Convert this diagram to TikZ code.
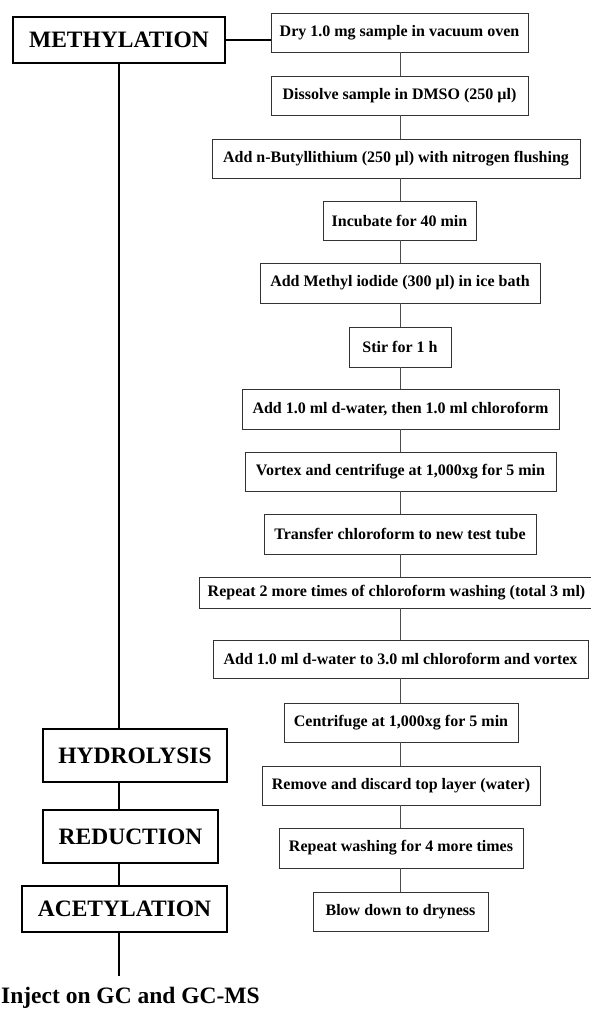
\documentclass[tikz,border=0pt]{standalone}
\usepackage{fontspec}
\setmainfont{Liberation Serif}
\begin{document}
\begin{tikzpicture}[x=1pt,y=-1pt,
  stepbox/.style={draw=black!80, line width=0.9pt, rectangle, inner sep=0pt,
    font=\fontsize{16}{19}\selectfont\bfseries},
  phasebox/.style={draw=black, line width=1.4pt, rectangle, inner sep=0pt,
    font=\fontsize{23.5}{28}\selectfont\bfseries},
  thin/.style={draw=black!70, line width=0.8pt},
  spineline/.style={draw=black, line width=2.8pt}]
\useasboundingbox (0,0) rectangle (591,1009);
% left phases
\node[phasebox, minimum width=212, minimum height=46] (meth) at (119,40) {METHYLATION};
\node[phasebox, minimum width=184, minimum height=53] (hyd) at (135,755.5) {HYDROLYSIS};
\node[phasebox, minimum width=175, minimum height=53] (red) at (130.5,836.5) {REDUCTION};
\node[phasebox, minimum width=205, minimum height=46] (ace) at (124.5,909) {ACETYLATION};
\coordinate (end) at (119,976);
\node[anchor=base west, inner sep=0pt, font=\fontsize{23.5}{28}\selectfont\bfseries] (inj) at (1,1003) {Inject on GC and GC-MS};
% right steps
\coordinate (col) at (400,0);
\node[stepbox, minimum width=257, minimum height=39] (s1) at (399.5,32.5) {Dry 1.0 mg sample in vacuum oven};
\node[stepbox, minimum width=257, minimum height=39] (s2) at (399.5,95.5) {Dissolve sample in DMSO (250 µl)};
\node[stepbox, minimum width=368, minimum height=39] (s3) at (396,158.5) {Add n-Butyllithium (250 µl) with nitrogen flushing};
\node[stepbox, minimum width=153, minimum height=39] (s4) at (399.5,220.5) {Incubate for 40 min};
\node[stepbox, minimum width=280, minimum height=40] (s5) at (400,283) {Add Methyl iodide (300 µl) in ice bath};
\node[stepbox, minimum width=102, minimum height=40] (s6) at (400,347) {Stir for 1 h};
\node[stepbox, minimum width=317, minimum height=40] (s7) at (400.5,409) {Add 1.0 ml d-water, then 1.0 ml chloroform};
\node[stepbox, minimum width=311, minimum height=39] (s8) at (400.5,471.5) {Vortex and centrifuge at 1,000xg for 5 min};
\node[stepbox, minimum width=272, minimum height=40] (s9) at (400,534) {Transfer chloroform to new test tube};
\node[stepbox, minimum width=395, minimum height=31] (s10) at (396.5,592.5) {Repeat 2 more times of chloroform washing (total 3 ml)};
\node[stepbox, minimum width=375, minimum height=38] (s11) at (400.5,659) {Add 1.0 ml d-water to 3.0 ml chloroform and vortex};
\node[stepbox, minimum width=234, minimum height=39] (s12) at (401,722.5) {Centrifuge at 1,000xg for 5 min};
\node[stepbox, minimum width=278, minimum height=39] (s13) at (401,785.5) {Remove and discard top layer (water)};
\node[stepbox, minimum width=244, minimum height=40] (s14) at (401,848) {Repeat washing for 4 more times};
\node[stepbox, minimum width=175, minimum height=39] (s15) at (400.5,911.5) {Blow down to dryness};
% connectors right
\foreach \a/\b in {s1/s2,s2/s3,s3/s4,s4/s5,s5/s6,s6/s7,s7/s8,s8/s9,s9/s10,s10/s11,s11/s12,s12/s13,s13/s14,s14/s15}
  \draw[thin] (\a.south -| col) -- (\b.north -| col);
% left spine
\draw[spineline] (meth.east) -- (meth.east -| s1.west);
\draw[spineline] (meth.south) -- (meth.south |- hyd.north);
\draw[spineline] (meth.south |- hyd.south) -- (meth.south |- red.north);
\draw[spineline] (meth.south |- red.south) -- (meth.south |- ace.north);
\draw[spineline] (meth.south |- ace.south) -- (end);
\end{tikzpicture}
\end{document}
